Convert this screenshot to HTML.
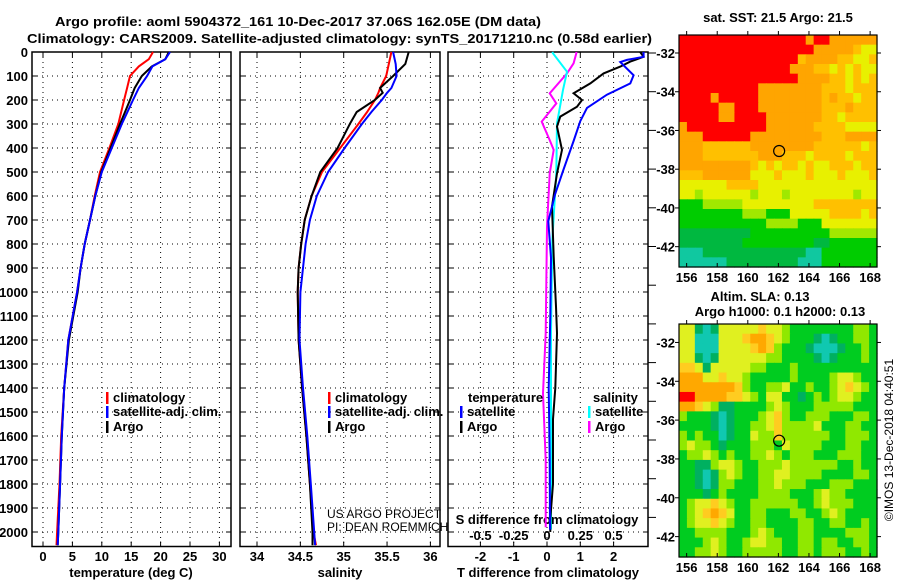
<!DOCTYPE html>
<html><head><meta charset="utf-8"><style>
html,body{margin:0;padding:0;background:#fff;}
svg{display:block;font-family:"Liberation Sans",Arial,sans-serif;}
.b{font-weight:bold;font-size:13px;}
</style></head><body>
<svg id="c" width="900" height="580" viewBox="0 0 900 580"></svg>
<script>
// ---------- data ----------
const depthTicks=[0,100,200,300,400,500,600,700,800,900,1000,1100,1200,1300,1400,1500,1600,1700,1800,1900,2000];
const tempTicks=[0,5,10,15,20,25,30];
const salTicks=[34,34.5,35,35.5,36];
const tdiffTicks=[-2,-1,0,1,2];
const sdiffTickVals=[-0.5,-0.25,0,0.25,0.5];
const sdiffTickLabels=["-0.5","-0.25","0","0.25","0.5"];

const tDepth=[0,30,60,100,150,200,300,400,500,600,700,800,900,1000,1200,1400,1600,1800,2000,2055];
const tClim=[18.7,18.0,16.3,14.8,14.3,13.8,12.8,11.3,9.7,8.8,8.0,7.1,6.4,5.8,4.3,3.6,3.1,2.8,2.4,2.3];
const tSat=[21.6,20.8,18.6,17.7,16.3,15.3,13.4,11.7,10.0,8.9,8.0,7.1,6.4,5.8,4.3,3.6,3.2,2.9,2.6,2.5];
const tArgo=[21.4,20.8,18.5,16.8,15.6,14.8,13.1,11.5,9.9,8.9,8.0,7.1,6.4,5.9,4.4,3.6,3.2,2.9,2.6,2.5];

const sDepth=[0,50,100,150,170,200,250,300,400,500,600,700,800,900,1000,1200,1400,1600,1800,2000,2055];
const sClim=[35.55,35.52,35.49,35.42,35.40,35.36,35.27,35.17,34.96,34.75,34.63,34.55,34.51,34.48,34.47,34.48,34.52,34.57,34.61,34.65,34.68];
const sSat=[35.57,35.60,35.61,35.55,35.50,35.44,35.32,35.21,35.01,34.82,34.69,34.61,34.56,34.53,34.50,34.49,34.53,34.58,34.62,34.66,34.67];
const sArgo=[35.75,35.71,35.57,35.42,35.45,35.36,35.15,35.07,34.93,34.73,34.63,34.55,34.51,34.48,34.47,34.48,34.52,34.57,34.61,34.64,34.64];

const dtSatDepth=[0,20,33,42,97,131,178,233,288,371,496,594,705,858,1100,1400,1700,1990];
const dtSat=[2.9,2.9,2.4,2.2,2.6,2.5,1.8,1.2,1.0,0.8,0.48,0.24,0.04,0.12,0.1,0.05,0.08,0.09];
const dtArgoDepth=[0,20,40,61,89,131,172,200,228,269,311,408,506,644,853,1061,1172,1400,1530,1800,1945,2000];
const dtArgo=[2.8,2.9,2.5,2.2,1.7,1.3,0.8,1.05,0.9,0.4,0.3,0.45,0.3,0.15,0.2,0.27,0.3,0.25,0.18,0.18,0.1,0.1];
const dsSatDepth=[0,6,82,158,297,506,783,1172,1500,1990];
const dsSat=[0.04,0.045,0.15,0.12,0.075,0.07,0.04,0.03,0.03,0.03];
const dsArgoDepth=[0,6,47,89,172,214,290,367,408,506,728,1172,1422,1700,1980];
const dsArgo=[0.22,0.22,0.2,0.15,0.02,0.07,-0.04,0.02,0.05,0.02,0.0,-0.01,-0.03,-0.01,-0.01];

const lonTicks=[156,158,160,162,164,166,168];
const latTicks=[-32,-34,-36,-38,-40,-42];
const floatLon=162.05, floatLat=-37.06;

const sstRows=[
"RRRRRRRRRRRRRRRRORROOOOOO",
"RRRRRRRRRRRRRRRRROOOOOoYY",
"RRRRRRRRRRRRRRRoOOOOooYYo",
"RRRRRRRRRRRRRROOOooYoYoYY",
"RRRRRRRRRRRRRRROOOOooYoYo",
"RRRRRRRRRROOOOOOOOoooYooo",
"RRRRORRRRROOOOOOOOoOooYoo",
"RRRRROORRROOOOOOOOoooOooo",
"RRRRROORRRROOOOOOOooYoooo",
"ORRRRRRRRRROOOOOOooooYYYY",
"OOORRRRRROOOOOOOOOoooOOOO",
"OOOooooooOOOOOOOOooooooYo",
"OOOoooooooOOOoooYooooYooo",
"OOOOOOOOOoYoYooYoYYoooYoo",
"oooOOOOOOYYYoYYYoYYYoYYYo",
"YYYYYYooooYYYYYYYYYYYYYYY",
"YYLYYYYYYLYYYLYYYYYYYYLYY",
"GGGLLLLLYYYYYYYYYoooooooo",
"GGGGGGGGLLLGGGYYYYYooooYo",
"GGGGGGGGGGGLLLLGGGYYYYYYY",
"DDDDDDDDDGGGGGGGGGGLLLLLL",
"DDDDDDDDGGGGGGGGGDDGGGGGG",
"TTTDDDDDDDDDDDDDTTGGGGGGG",
"TTTTTTDDDDDDDDDTTTGGGGGGG"];
const slaRows=[
"YYDTDYYYYYoYYLGGGGGGGGLLG",
"YYTTTYYYoOOoYLGGGDTDGGLLG",
"YYTTTYYYYoOoLGGGDTTTDGGLG",
"YYDTDYYYYYYLLGGGGDTDGGGLG",
"ooYDYYYYYLLGGGLGGGGGGGGGG",
"OOOYYoYYLGGGGGLGGGGLYYLGG",
"OOOOOOOoLGGLLYGGLGGLYoYLG",
"RROOOOooYLGYYGGDGLGLYYLGG",
"OOoYLDDGGGGLYLGGGLLLLLGGG",
"LGGGDTDGGGLYoLGGLLLGGGLLG",
"GGGGDTDGGLLYoLLLLYGGGLLGG",
"LGLGGTDGGYLLoLLLLLLGGLLLG",
"LYLLGDGGGLLLGYLLLLGGGLLGG",
"GLLYLGLGGLLYLGLLLGGGLLLGG",
"GGDDLYYLGGLLLYLLLLLLGGLGG",
"GGDTDLYLGGLLYYLLLLGGGGLLG",
"GGDTDLLGGGLLYLLLGGGLLLGGG",
"GGGDGLGGGGLLLLGGGLYLLGGGG",
"GLYYoYLGGLLLLLLGGLYLLLGGG",
"GLYoOoYGGLLGGGLLGGLYLGGGG",
"GLYYoYLGGLLGGGGLLGGLLGGLG",
"GGLLLLGGGLYLGGGLLGGGGLLLG",
"GGGLYLGGLYYLLGGLLGLLGGLLG",
"GGLLYLGGLLLLLGGLLGLLLGGLG"];
const sstColors={R:"#ff0000",O:"#ffa500",o:"#ffc000",Y:"#e8f000",L:"#a0e800",G:"#00cc00",D:"#00b840",T:"#10c8a0"};
const slaColors={R:"#ff0000",O:"#ffa800",o:"#ffcc20",Y:"#e0f020",L:"#90e800",G:"#00cc20",D:"#00b060",T:"#10c8b0"};

// ---------- helpers ----------
const NS="http://www.w3.org/2000/svg";
const svg=document.getElementById('c');
function mk(tag,attrs,parent){const e=document.createElementNS(NS,tag);for(const k in attrs)e.setAttribute(k,attrs[k]);(parent||svg).appendChild(e);return e;}
function txt(x,y,s,anchor,cls,parent){const e=mk('text',{x:x,y:y,'text-anchor':anchor||'middle',class:cls||'b'},parent);e.textContent=s;return e;}

const PT=52, PB=546.5;
function dy(d){return PT+d*0.24;}
function tx(t){return 43+t*5.88;}
function sx(s){return 257+(s-34)*86.7;}
function dtx(t){return 547+t*33.3;}
function dsx(s){return 547+s*133.2;}

const panels=[{x0:32,x1:231,name:'temperature-panel'},{x0:240,x1:440,name:'salinity-panel'},{x0:448,x1:648,name:'difference-panel'}];

// grids and frames
panels.forEach((p,i)=>{
  const g=mk('g',{});
  
  
  let xs=i==0?tempTicks.map(tx):i==1?salTicks.map(sx):tdiffTicks.map(dtx);
  xs.forEach(x=>{const l=mk('line',{x1:x,x2:x,y1:PT,y2:PB,stroke:'#000','stroke-width':1,'stroke-dasharray':'1 4'},g);
    
    mk('line',{x1:x,x2:x,y1:PB,y2:PB-5,stroke:'#000'},g);mk('line',{x1:x,x2:x,y1:PT,y2:PT+5,stroke:'#000'},g);});
  depthTicks.forEach(d=>{const y=dy(d);const l=mk('line',{x1:p.x0,x2:p.x1,y1:y,y2:y,stroke:'#000','stroke-width':1,'stroke-dasharray':'1 4'},g);
    
    mk('line',{x1:p.x0,x2:p.x0+5,y1:y,y2:y,stroke:'#000'},g);mk('line',{x1:p.x1,x2:p.x1-5,y1:y,y2:y,stroke:'#000'},g);});
  const r=mk('rect',{x:p.x0,y:PT,width:p.x1-p.x0,height:PB-PT,fill:'none',stroke:'#000','stroke-width':1.5},g);
  
});
// right ticks of difference panel
for(let y=53;y<550;y+=38.7){mk('line',{x1:648,x2:656,y1:y,y2:y,stroke:'#000'});}

// y tick labels
depthTicks.forEach(d=>{const t=txt(28,dy(d)+5,String(d),'end');});
tempTicks.forEach(v=>{const t=txt(tx(v),561,String(v));});
salTicks.forEach(v=>{const t=txt(sx(v),561,String(v));});
tdiffTicks.forEach(v=>{const t=txt(dtx(v),561,String(v));});
sdiffTickVals.forEach((v,i)=>{const t=txt(dsx(v),540,sdiffTickLabels[i]);});

let t;
t=txt(131,577,'temperature (deg C)');
t=txt(340,577,'salinity');
t=txt(548,577,'T difference from climatology');
t=txt(547,524,'S difference from climatology');

// titles
t=mk('text',{x:55,y:26,class:'b','font-size':'14px',textLength:486,lengthAdjust:'spacingAndGlyphs'});t.textContent='Argo profile: aoml 5904372_161 10-Dec-2017 37.06S 162.05E (DM data)';

t=mk('text',{x:27,y:43,class:'b','font-size':'14px',textLength:625,lengthAdjust:'spacingAndGlyphs'});t.textContent='Climatology: CARS2009. Satellite-adjusted climatology: synTS_20171210.nc (0.58d earlier)';


// profile lines
function line(xs,ds,fx,color,name){
  const pts=xs.map((v,i)=>fx(v).toFixed(1)+','+dy(ds[i]).toFixed(1)).join(' ');
  const e=mk('polyline',{points:pts,fill:'none',stroke:color,'stroke-width':2,'stroke-linejoin':'miter'});
  
  
}
line(tClim,tDepth,tx,'#ff0000','temperature-climatology-line');
line(tArgo,tDepth,tx,'#000000','temperature-argo-line');
line(tSat,tDepth,tx,'#0000ff','temperature-satellite-line');
line(sClim,sDepth,sx,'#ff0000','salinity-climatology-line');
line(sArgo,sDepth,sx,'#000000','salinity-argo-line');
line(sSat,sDepth,sx,'#0000ff','salinity-satellite-line');
line(dsArgo,dsArgoDepth,dsx,'#ff00ff','sdiff-argo-line');
line(dsSat,dsSatDepth,dsx,'#00ffff','sdiff-satellite-line');
line(dtArgo,dtArgoDepth,dtx,'#000000','tdiff-argo-line');
line(dtSat,dtSatDepth,dtx,'#0000ff','tdiff-satellite-line');

// legends
function leg(x,y,color,label,name){
  const g=mk('g',{});
  mk('rect',{x:x,y:y-10,width:2.5,height:12,fill:color},g);
  txt(x+7,y,label,'start','b',g);
}
leg(106,402,'#ff0000','climatology','legend-temp-climatology');
leg(106,416,'#0000ff','satellite-adj. clim.','legend-temp-satellite');
leg(106,431,'#000000','Argo','legend-temp-argo');
leg(328,402,'#ff0000','climatology','legend-sal-climatology');
leg(328,416,'#0000ff','satellite-adj. clim.','legend-sal-satellite');
leg(328,431,'#000000','Argo','legend-sal-argo');
t=txt(468,402,'temperature','start');
leg(460,416,'#0000ff','satellite','legend-tdiff-satellite');
leg(460,431,'#000000','Argo','legend-tdiff-argo');
t=txt(593,402,'salinity','start');
leg(588,416,'#00ffff','satellite','legend-sdiff-satellite');
leg(588,431,'#ff00ff','Argo','legend-sdiff-argo');

t=mk('text',{x:327,y:518,'font-size':'12px'});t.textContent='US ARGO PROJECT';
t=mk('text',{x:327,y:531,'font-size':'12px'});t.textContent='PI: DEAN ROEMMICH';

// maps
function drawMap(top,bot,latTop,latBot,rows,colors,name){
  const L=679,R=877,lon0=155.5,lon1=168.45;
  const mx=lon=>L+(lon-lon0)/(lon1-lon0)*(R-L);
  const my=lat=>top+(latTop-lat)/(latTop-latBot)*(bot-top);
  const g=mk('g',{});
  mk('rect',{x:L,y:top,width:R-L,height:bot-top,fill:colors.G},g);
  const nr=rows.length;const cw=(R-L)/25, rh=(bot-top)/nr;
  rows.forEach((row,ri)=>{for(let ci=0;ci<row.length;ci++){
    const c=mk('rect',{x:(L+ci*cw).toFixed(2),y:(top+ri*rh).toFixed(2),width:(cw+0.6).toFixed(2),height:(rh+0.6).toFixed(2),fill:colors[row[ci]]},g);
  }});
  mk('rect',{x:L,y:top,width:R-L,height:bot-top,fill:'none',stroke:'#000','stroke-width':1.2},g);
  lonTicks.forEach(v=>{const x=mx(v);mk('line',{x1:x,x2:x,y1:bot,y2:bot-4,stroke:'#000'},g);mk('line',{x1:x,x2:x,y1:top,y2:top-4,stroke:'#000'},g);
    const l=txt(x,bot+15,String(v),'middle','b',g);});
  latTicks.forEach(v=>{const y=my(v);mk('line',{x1:L,x2:L-4,y1:y,y2:y,stroke:'#000'},g);mk('line',{x1:R,x2:R+4,y1:y,y2:y,stroke:'#000'},g);
    const l=txt(675,y+5,String(v),'end','b',g);});
  const c=mk('circle',{cx:mx(floatLon),cy:my(floatLat),r:5.5,fill:'none',stroke:'#000','stroke-width':1.2},g);
  
}
drawMap(35,267,-31.07,-43.05,sstRows,sstColors,'sst-map');
drawMap(324,557,-31.05,-43.05,slaRows,slaColors,'sla-map');
t=txt(778,22,'sat. SST: 21.5 Argo: 21.5');
t=txt(760,301,'Altim. SLA: 0.13');
t=txt(780,316,'Argo h1000: 0.1 h2000: 0.13');
t=mk('text',{x:0,y:0,'text-anchor':'middle','font-size':'12px',transform:'translate(893,440) rotate(-90)'});t.textContent='©IMOS 13-Dec-2018 04:40:51';

</script>
</body></html>
